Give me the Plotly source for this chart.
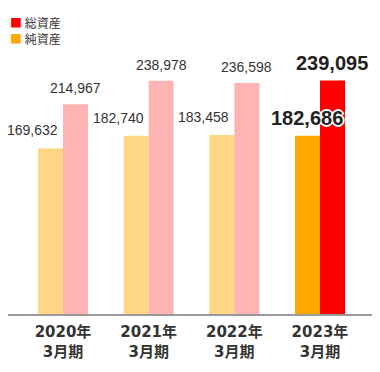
import plotly.graph_objects as go

categories = ["2020年<br>3月期", "2021年<br>3月期", "2022年<br>3月期", "2023年<br>3月期"]
net_assets = [169632, 182740, 183458, 182686]
total_assets = [214967, 238978, 236598, 239095]
net_name = "純資産"
total_name = "総資産"

net_colors = ["#FFD684", "#FFD684", "#FFD684", "#FFA800"]
total_colors = ["#FFB3B3", "#FFB3B3", "#FFB3B3", "#FF0000"]

FONT = "Liberation Sans, Arial, Noto Sans CJK JP, sans-serif"
BAR_W = 0.292

fig = go.Figure()
fig.add_trace(go.Bar(x=categories, y=net_assets, name=net_name,
                     width=BAR_W, offset=-BAR_W,
                     marker=dict(color=net_colors, line=dict(width=0)),
                     hoverinfo="skip", showlegend=False))
fig.add_trace(go.Bar(x=categories, y=total_assets, name=total_name,
                     width=BAR_W, offset=0,
                     marker=dict(color=total_colors, line=dict(width=0)),
                     hoverinfo="skip", showlegend=False))

last = len(categories) - 1
halo = ("-1px -1px 0 #fff, 1px -1px 0 #fff, -1px 1px 0 #fff, 1px 1px 0 #fff, "
        "0 2px 0 #fff, 2px 0 0 #fff, -2px 0 0 #fff, 0 -2px 0 #fff")
for i, (c, n, t) in enumerate(zip(categories, net_assets, total_assets)):
    if i == last:
        fig.add_annotation(x=c, y=n, text=f"<b>{n:,}</b>", showarrow=False,
                           xanchor="center", yanchor="bottom", xshift=-12.5, yshift=5,
                           font=dict(size=20, color="#222", family=FONT, shadow=halo))
        fig.add_annotation(x=c, y=t, text=f"<b>{t:,}</b>", showarrow=False,
                           xanchor="center", yanchor="bottom", xshift=12.5, yshift=5,
                           font=dict(size=20, color="#222", family=FONT))
    else:
        fig.add_annotation(x=c, y=n, text=f"{n:,}", showarrow=False,
                           xanchor="right", yanchor="bottom", xshift=-3, yshift=8,
                           font=dict(size=14, color="#333", family=FONT))
        fig.add_annotation(x=c, y=t, text=f"{t:,}", showarrow=False,
                           xanchor="center", yanchor="bottom", xshift=12.5, yshift=6,
                           font=dict(size=14, color="#333", family=FONT))

# legend (total first, then net)
legend_text = "<br>".join(
    f"<span style='color:{col}'>■</span> {name}"
    for name, col in [(total_name, total_colors[-1]), (net_name, net_colors[-1])]
)
fig.add_annotation(xref="paper", yref="paper", x=0, y=1, xanchor="left", yanchor="top",
                   showarrow=False, xshift=0, yshift=-4, align="left",
                   text=legend_text,
                   font=dict(size=12, color="#333", family="Noto Sans CJK JP, sans-serif"))

fig.update_layout(
    width=380, height=372,
    margin=dict(l=0, r=0, t=0, b=66, autoexpand=False),
    paper_bgcolor="white", plot_bgcolor="white",
    barmode="overlay",
    showlegend=False,
    xaxis=dict(range=[-0.642, 3.794], showgrid=False, showline=True,
               linecolor="#999", linewidth=2, ticks="", ticklabelstandoff=3,
               tickfont=dict(size=15, color="#333", family="DejaVu Sans, Noto Sans CJK JP",
                             weight="bold")),
    yaxis=dict(range=[0, 313500], visible=False, showgrid=False, zeroline=False),
)

fig.write_html("out.html")
